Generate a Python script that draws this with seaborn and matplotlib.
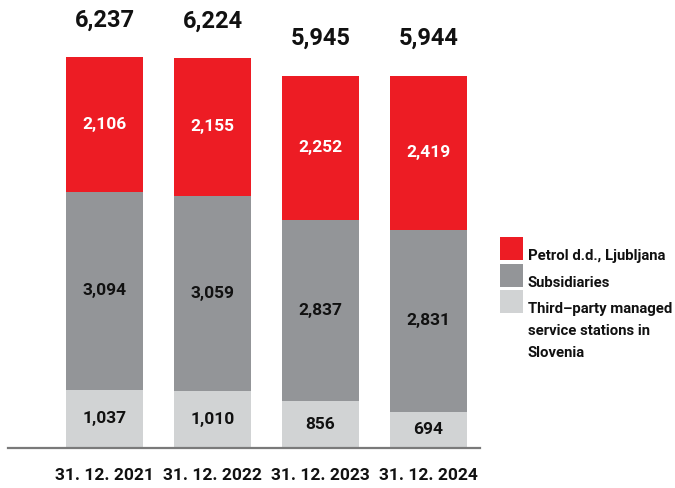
import matplotlib
matplotlib.use("Agg")
import matplotlib.pyplot as plt
from matplotlib.patches import Rectangle
import seaborn as sns
import pandas as pd

dates = ["31. 12. 2021", "31. 12. 2022", "31. 12. 2023", "31. 12. 2024"]
petrol = [2106, 2155, 2252, 2419]
subsidiaries = [3094, 3059, 2837, 2831]
third_party = [1037, 1010, 856, 694]
series_names = [["Petrol d.d., Ljubljana"], ["Subsidiaries"],
                ["Third\u2013party managed", "service stations in", "Slovenia"]]
colors = ["#ED1C24", "#939598", "#D1D3D4"]

sns.set_theme(style="white")
plt.rcParams["font.family"] = ["Roboto", "DejaVu Sans"]
plt.rcParams["font.weight"] = "bold"

df = pd.DataFrame({"date": dates, "petrol": petrol,
                   "subs": subsidiaries, "third": third_party})
df["total"] = df["petrol"] + df["subs"] + df["third"]

W, H = 675, 488
fig = plt.figure(figsize=(W / 100, H / 100), dpi=100)
ax = fig.add_axes([8 / W, (H - 448) / H, (480 - 8) / W, 448 / H])

y_min, px_per_unit = 125, 0.064
ax.set_ylim(y_min, y_min + 448 / px_per_unit)

w = 0.713
sns.barplot(data=df, x="date", y="third", color=colors[2], width=w,
            saturation=1, ax=ax, linewidth=0)
sns.barplot(data=df, x="date", y="subs", color=colors[1], width=w,
            saturation=1, ax=ax, bottom=df["third"], linewidth=0)
sns.barplot(data=df, x="date", y="petrol", color=colors[0], width=w,
            saturation=1, ax=ax, bottom=df["third"] + df["subs"], linewidth=0)

ink = "#111111"
seg_size, tot_size = 12.5, 17
for i, row in df.iterrows():
    ax.text(i, (y_min + row["third"]) / 2, f"{row['third']:,}", ha="center",
            va="center", fontsize=seg_size, fontweight="bold", color=ink)
    ax.text(i, row["third"] + row["subs"] / 2, f"{row['subs']:,}", ha="center",
            va="center", fontsize=seg_size, fontweight="bold", color=ink)
    ax.text(i, row["third"] + row["subs"] + row["petrol"] / 2, f"{row['petrol']:,}",
            ha="center", va="center", fontsize=seg_size, fontweight="bold",
            color="white")
    ax.annotate(f"{row['total']:,}", (i, row["total"]), xytext=(0, 26.5),
                textcoords="offset points", ha="center", va="center",
                fontsize=tot_size, fontweight="bold", color=ink)

ax.set_xlim((8 - 104.5) / 108, (480 - 104.5) / 108)
ax.set_xlabel("")
ax.set_ylabel("")
ax.set_yticks([])
for s in ["top", "right", "left"]:
    ax.spines[s].set_visible(False)
ax.spines["bottom"].set_color("#7a7a7a")
ax.spines["bottom"].set_linewidth(1.6)
ax.tick_params(axis="x", length=0, pad=14.5, labelsize=12.5)
for lbl in ax.get_xticklabels():
    lbl.set_fontweight("bold")
    lbl.set_color(ink)

# legend, laid out in figure pixels; text size shrunk so the widest line fits
renderer = fig.canvas.get_renderer()
probe = fig.text(0, 0, "Third\u2013party managed", fontsize=12, fontweight="bold")
probe_w = probe.get_window_extent(renderer).width
probe.remove()
leg_size = min(12.5, 12 * 144 / probe_w)

tops = [237, 264, 290]
for lines, c, t in zip(series_names, colors, tops):
    fig.patches.append(Rectangle((500 / W, (H - t - 23) / H), 23 / W, 23 / H,
                                 transform=fig.transFigure, facecolor=c,
                                 edgecolor="none"))
    for k, line in enumerate(lines):
        base = t + 23 + 22 * k
        fig.text(528 / W, (H - base) / H, line, ha="left", va="baseline",
                 fontsize=leg_size, fontweight="bold", color=ink)

fig.savefig("out.png", dpi=100)
